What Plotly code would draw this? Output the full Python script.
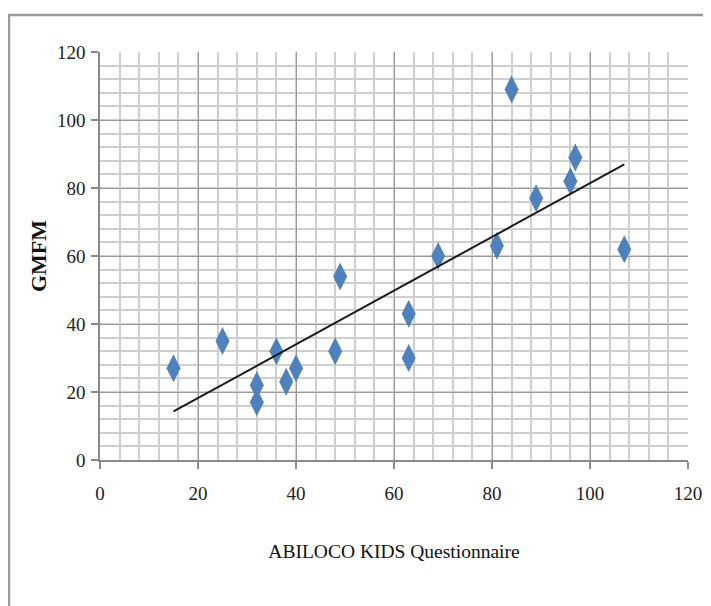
import numpy as np
import plotly.graph_objects as go

# Data
abiloco = [15, 25, 32, 32, 36, 38, 40, 48, 49, 63, 63, 69, 81, 84, 89, 96, 97, 107]
gmfm = [27, 35, 22, 17, 32, 23, 27, 32, 54, 43, 30, 60, 63, 109, 77, 82, 89, 62]
tick_vals = [0, 20, 40, 60, 80, 100, 120]
x_title = "ABILOCO KIDS Questionnaire"
y_title = "GMFM"

xs = np.array(abiloco, dtype=float)
ys = np.array(gmfm, dtype=float)
slope, intercept = np.polyfit(xs, ys, 1)
fit_x = np.array([xs.min(), xs.max()])
fit_y = slope * fit_x + intercept

fig = go.Figure()
fig.add_trace(go.Scatter(
    x=abiloco, y=gmfm, mode="markers",
    marker=dict(symbol="diamond-tall", size=20, color="#4F81BD",
                line=dict(width=0)),
    showlegend=False,
))
fig.add_trace(go.Scatter(
    x=fit_x, y=fit_y, mode="lines",
    line=dict(color="#1a1a1a", width=2),
    showlegend=False,
))

font_family = "Liberation Serif"
axis_common = dict(
    range=[0, 120], tickvals=tick_vals, ticktext=[str(v) for v in tick_vals],
    showgrid=True, gridcolor="#9a9a9a", gridwidth=1.3,
    minor=dict(dtick=4, tick0=0, showgrid=True, gridcolor="#cfcfcf", gridwidth=1.5),
    showline=True, linecolor="#8a8a8a", linewidth=1.5,
    ticks="outside", ticklen=7, tickcolor="#8a8a8a", tickwidth=1.5,
    zeroline=False, automargin=False,
    tickfont=dict(family=font_family, size=19, color="#222"),
)

fig.update_layout(
    width=703, height=598,
    margin=dict(l=92, r=23, t=44, b=146),
    paper_bgcolor="white", plot_bgcolor="white",
    xaxis=dict(**axis_common, ticklabelstandoff=8,
               title=dict(text=x_title, standoff=42,
                          font=dict(family=font_family, size=19.5, color="#111"))),
    yaxis=dict(**axis_common, ticklabelstandoff=2,
               title=dict(text="<b>" + y_title + "</b>", standoff=4,
                          font=dict(family=font_family, size=22, color="#111"))),
    shapes=[
        dict(type="line", xref="paper", yref="paper",
             x0=-0.2, x1=1.2, y0=1.0907, y1=1.0907,
             line=dict(color="#9a9a9a", width=2.5)),
        dict(type="line", xref="paper", yref="paper",
             x0=-0.1548, x1=-0.1548, y0=1.0907, y1=-0.5,
             line=dict(color="#9a9a9a", width=2.5)),
    ],
)

fig.write_html("out.html")
